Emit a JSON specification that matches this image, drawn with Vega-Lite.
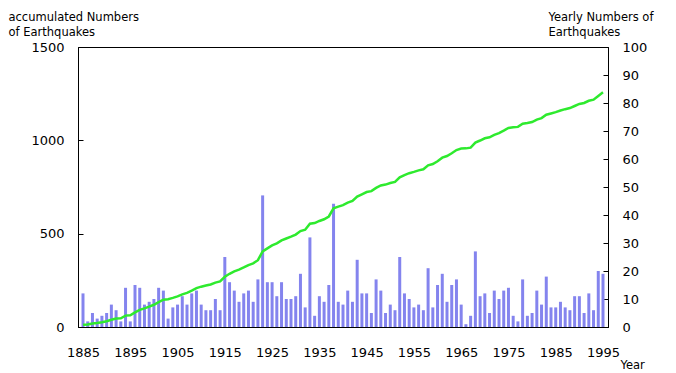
{
  "$schema": "https://vega.github.io/schema/vega-lite/v6.json",
  "autosize": {"type": "none"},
  "width": 530,
  "height": 280,
  "padding": {"left": 78, "top": 47, "right": 68, "bottom": 46},
  "background": "white",
  "config": {
    "view": {"stroke": "#000", "strokeWidth": 1},
    "axis": {
      "labelFont": "DejaVu Sans", "labelFontSize": 13, "labelColor": "#000",
      "titleFont": "DejaVu Sans", "titleFontSize": 11.5, "titleFontWeight": "normal", "titleColor": "#000",
      "domainColor": "#000", "tickColor": "#000", "grid": false,
      "labelOverlap": false, "labelFlush": false, "labelBound": false
    }
  },
  "data": {"values": [
    {"year":1885,"n":12,"acc":12},{"year":1886,"n":2,"acc":14},{"year":1887,"n":5,"acc":19},{"year":1888,"n":3,"acc":22},{"year":1889,"n":4,"acc":26},
    {"year":1890,"n":5,"acc":31},{"year":1891,"n":8,"acc":39},{"year":1892,"n":6,"acc":45},{"year":1893,"n":2,"acc":47},{"year":1894,"n":14,"acc":61},
    {"year":1895,"n":2,"acc":63},{"year":1896,"n":15,"acc":78},{"year":1897,"n":14,"acc":92},{"year":1898,"n":8,"acc":100},{"year":1899,"n":9,"acc":109},
    {"year":1900,"n":10,"acc":119},{"year":1901,"n":14,"acc":133},{"year":1902,"n":13,"acc":146},{"year":1903,"n":3,"acc":149},{"year":1904,"n":7,"acc":156},
    {"year":1905,"n":8,"acc":164},{"year":1906,"n":11,"acc":175},{"year":1907,"n":8,"acc":183},{"year":1908,"n":12,"acc":195},{"year":1909,"n":13,"acc":208},
    {"year":1910,"n":8,"acc":216},{"year":1911,"n":6,"acc":222},{"year":1912,"n":6,"acc":228},{"year":1913,"n":10,"acc":238},{"year":1914,"n":6,"acc":244},
    {"year":1915,"n":25,"acc":269},{"year":1916,"n":16,"acc":285},{"year":1917,"n":13,"acc":298},{"year":1918,"n":9,"acc":307},{"year":1919,"n":12,"acc":319},
    {"year":1920,"n":13,"acc":332},{"year":1921,"n":9,"acc":341},{"year":1922,"n":17,"acc":358},{"year":1923,"n":47,"acc":405},{"year":1924,"n":16,"acc":421},
    {"year":1925,"n":16,"acc":437},{"year":1926,"n":11,"acc":448},{"year":1927,"n":16,"acc":464},{"year":1928,"n":10,"acc":474},{"year":1929,"n":10,"acc":484},
    {"year":1930,"n":11,"acc":495},{"year":1931,"n":19,"acc":514},{"year":1932,"n":7,"acc":521},{"year":1933,"n":32,"acc":553},{"year":1934,"n":4,"acc":557},
    {"year":1935,"n":11,"acc":568},{"year":1936,"n":9,"acc":577},{"year":1937,"n":15,"acc":592},{"year":1938,"n":44,"acc":636},{"year":1939,"n":9,"acc":645},
    {"year":1940,"n":8,"acc":653},{"year":1941,"n":13,"acc":666},{"year":1942,"n":9,"acc":675},{"year":1943,"n":24,"acc":699},{"year":1944,"n":12,"acc":711},
    {"year":1945,"n":12,"acc":723},{"year":1946,"n":5,"acc":728},{"year":1947,"n":17,"acc":745},{"year":1948,"n":13,"acc":758},{"year":1949,"n":5,"acc":763},
    {"year":1950,"n":8,"acc":771},{"year":1951,"n":6,"acc":777},{"year":1952,"n":25,"acc":802},{"year":1953,"n":12,"acc":814},{"year":1954,"n":10,"acc":824},
    {"year":1955,"n":7,"acc":831},{"year":1956,"n":8,"acc":839},{"year":1957,"n":6,"acc":845},{"year":1958,"n":21,"acc":866},{"year":1959,"n":7,"acc":873},
    {"year":1960,"n":15,"acc":888},{"year":1961,"n":19,"acc":907},{"year":1962,"n":9,"acc":916},{"year":1963,"n":15,"acc":931},{"year":1964,"n":17,"acc":948},
    {"year":1965,"n":8,"acc":956},{"year":1966,"n":1,"acc":957},{"year":1967,"n":4,"acc":961},{"year":1968,"n":27,"acc":988},{"year":1969,"n":11,"acc":999},
    {"year":1970,"n":12,"acc":1011},{"year":1971,"n":5,"acc":1016},{"year":1972,"n":13,"acc":1029},{"year":1973,"n":10,"acc":1039},{"year":1974,"n":13,"acc":1052},
    {"year":1975,"n":14,"acc":1066},{"year":1976,"n":4,"acc":1070},{"year":1977,"n":2,"acc":1072},{"year":1978,"n":17,"acc":1089},{"year":1979,"n":4,"acc":1093},
    {"year":1980,"n":5,"acc":1098},{"year":1981,"n":13,"acc":1111},{"year":1982,"n":8,"acc":1119},{"year":1983,"n":18,"acc":1137},{"year":1984,"n":7,"acc":1144},
    {"year":1985,"n":7,"acc":1151},{"year":1986,"n":9,"acc":1160},{"year":1987,"n":7,"acc":1167},{"year":1988,"n":6,"acc":1173},{"year":1989,"n":11,"acc":1184},
    {"year":1990,"n":11,"acc":1195},{"year":1991,"n":5,"acc":1200},{"year":1992,"n":12,"acc":1212},{"year":1993,"n":6,"acc":1218},{"year":1994,"n":20,"acc":1238},
    {"year":1995,"n":19,"acc":1257}
  ]},
  "encoding": {
    "x": {
      "field": "year", "type": "quantitative",
      "scale": {"domain": [1885, 1995], "nice": false, "zero": false},
      "axis": {
        "orient": "bottom",
        "values": [1885,1890,1895,1900,1905,1910,1915,1920,1925,1930,1935,1940,1945,1950,1955,1960,1965,1970,1975,1980,1985,1990,1995],
        "format": "d",
        "labelExpr": "(datum.value - 1885) % 10 == 0 ? datum.label : ''",
        "tickSize": -4,
        "labelPadding": 23,
        "labelBaseline": "top",
        "title": "Year",
        "titleX": 542, "titleY": 41, "titleAlign": "left", "titleBaseline": "alphabetic"
      }
    }
  },
  "layer": [
    {
      "mark": {"type": "bar", "size": 3, "color": "#8484ee"},
      "encoding": {
        "y": {
          "field": "n", "type": "quantitative",
          "scale": {"domain": [0, 100], "nice": false},
          "axis": {
            "orient": "right",
            "values": [0,10,20,30,40,50,60,70,80,90,100],
            "format": "d",
            "tickSize": -5,
            "labelPadding": 19,
            "labelAlign": "left",
            "title": ["Yearly Numbers of", "Earthquakes"],
            "titleAngle": 0, "titleX": -60, "titleY": -26.5,
            "titleAlign": "left", "titleBaseline": "alphabetic", "titleLineHeight": 15
          }
        }
      }
    },
    {
      "mark": {"type": "line", "color": "#2eea2e", "strokeWidth": 2.5},
      "encoding": {
        "y": {
          "field": "acc", "type": "quantitative",
          "scale": {"domain": [0, 1500], "nice": false},
          "axis": {
            "orient": "left",
            "values": [0, 500, 1000, 1500],
            "format": "d",
            "tickSize": -5,
            "labelPadding": 19,
            "labelAlign": "right",
            "title": ["accumulated Numbers", "of Earthquakes"],
            "titleAngle": 0, "titleX": -70, "titleY": -26.5,
            "titleAlign": "left", "titleBaseline": "alphabetic", "titleLineHeight": 15
          }
        }
      }
    }
  ],
  "resolve": {"scale": {"y": "independent"}}
}
